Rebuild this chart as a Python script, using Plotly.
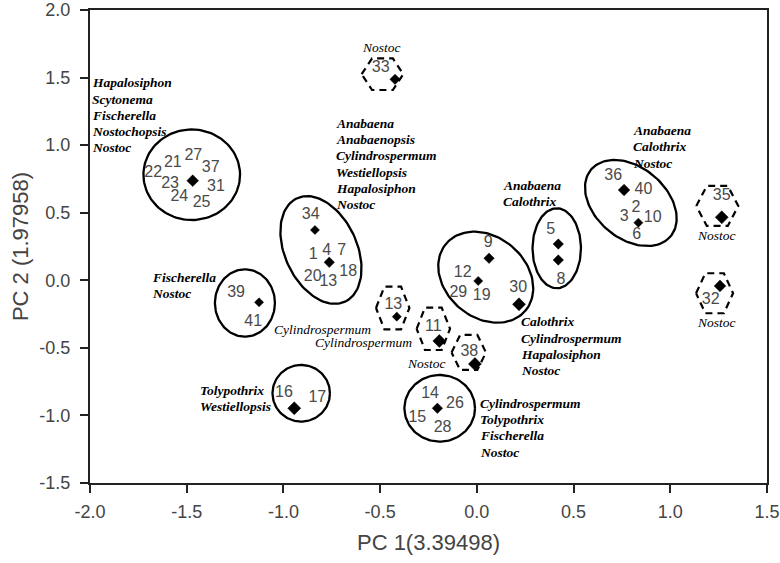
import numpy as np
import plotly.graph_objects as go

# ---------------- data ----------------
pc1 = [-1.469, -0.423, -0.837, -0.763, -1.126, -0.944, -0.414, -0.194, -0.010,
       -0.204, 0.063, 0.007, 0.218, 0.421, 0.421, 0.761, 0.835, 1.266, 1.257]
pc2 = [0.737, 1.487, 0.372, 0.133, -0.163, -0.947, -0.269, -0.449, -0.619,
       -0.947, 0.163, -0.005, -0.178, 0.268, 0.150, 0.668, 0.426, 0.466, -0.042]
marker_sizes = [9, 8, 7, 8, 7, 10, 7, 10, 10, 8, 8, 7, 10, 8, 8, 9, 7, 10, 9]

num_text = ["22", "21", "27", "37", "23", "31", "24", "25",
            "33", "34", "1", "4", "7", "20", "13", "18",
            "39", "41", "16", "17", "13", "11", "38",
            "14", "26", "15", "28", "9", "12", "29", "19", "30",
            "5", "8", "36", "40", "2", "3", "10", "6", "35", "32"]
num_x = [-1.673, -1.572, -1.466, -1.376, -1.586, -1.349, -1.538, -1.423,
         -0.497, -0.859, -0.846, -0.776, -0.699, -0.849, -0.768, -0.665,
         -1.245, -1.156, -0.997, -0.825, -0.432, -0.225, -0.039,
         -0.242, -0.113, -0.308, -0.177, 0.059, -0.073, -0.096, 0.025, 0.214,
         0.382, 0.435, 0.705, 0.861, 0.823, 0.762, 0.909, 0.826, 1.266, 1.209]
num_y = [0.792, 0.866, 0.920, 0.829, 0.712, 0.692, 0.618, 0.569,
         1.569, 0.483, 0.187, 0.219, 0.219, 0.026, -0.011, 0.064,
         -0.092, -0.306, -0.836, -0.873, -0.183, -0.343, -0.528,
         -0.844, -0.916, -1.021, -1.095, 0.278, 0.056, -0.092, -0.116, -0.059,
         0.372, 0.002, 0.772, 0.668, 0.533, 0.466, 0.459, 0.335, 0.624, -0.146]

genus_blocks = [
    (["Hapalosiphon", "Scytonema", "Fischerella", "Nostochopsis", "Nostoc"], -1.991, 1.462),
    (["Anabaena", "Anabaenopsis", "Cylindrospermum", "Westiellopsis", "Hapalosiphon", "Nostoc"], -0.728, 1.162),
    (["Anabaena", "Calothrix", "Nostoc"], 0.806, 1.107),
    (["Anabaena", "Calothrix"], 0.137, 0.705),
    (["Fischerella", "Nostoc"], -1.681, 0.022),
    (["Tolypothrix", "Westiellopsis"], -1.431, -0.812),
    (["Calothrix", "Cylindrospermum", "Hapalosiphon", "Nostoc"], 0.228, -0.307),
    (["Cylindrospermum", "Tolypothrix", "Fischerella", "Nostoc"], 0.016, -0.910),
]
single_text = ["Nostoc", "Nostoc", "Nostoc", "Cylindrospermum", "Cylindrospermum", "Nostoc"]
single_x = [-0.492, 1.240, 1.240, -0.538, -0.325, -0.148]
single_y = [1.724, 0.335, -0.316, -0.361, -0.457, -0.614]
single_anchor = ["center", "center", "center", "right", "right", "right"]

tick_x_vals = [-2.0, -1.5, -1.0, -0.5, 0.0, 0.5, 1.0, 1.5]
tick_x_text = ["-2.0", "-1.5", "-1.0", "-0.5", "0.0", "0.5", "1.0", "1.5"]
tick_y_vals = [-1.5, -1.0, -0.5, 0.0, 0.5, 1.0, 1.5, 2.0]
tick_y_text = ["-1.5", "-1.0", "-0.5", "0.0", "0.5", "1.0", "1.5", "2.0"]

# ellipses: centre (data), semi-axes (px), rotation (deg, clockwise on screen)
ellipses = [(-1.474, 0.781, 48.3, 45.3, 0), (-0.806, 0.224, 57, 36, 65),
            (-1.199, -0.168, 30, 33.7, 0), (-0.908, -0.836, 28.7, 28.3, 0),
            (-0.192, -0.947, 35.3, 33.3, 0), (0.046, 0.023, 51.9, 40.4, 40),
            (0.413, 0.237, 24.2, 40, 0), (0.796, 0.572, 51.9, 35.5, 40)]
hexagons = [(-0.488, 1.525, 20.8, 15.8), (-0.435, -0.205, 16.7, 21.3),
            (-0.225, -0.359, 16.7, 21.2), (-0.042, -0.534, 17.2, 17.5),
            (1.243, 0.550, 21, 20), (1.229, -0.096, 18.5, 20)]

X_RANGE = [-2.0, 1.5]
Y_RANGE = [-1.5, 2.0]
W, H = 780, 563
ML, MR, MT, MB = 90, 13, 10, 80
PXX = (W - ML - MR) / (X_RANGE[1] - X_RANGE[0])
PXY = (H - MT - MB) / (Y_RANGE[1] - Y_RANGE[0])

fig = go.Figure()

t = np.linspace(0, 2 * np.pi, 120)
for cx, cy, a, b, ang in ellipses:
    p = np.deg2rad(ang)
    dx = a * np.cos(t) * np.cos(p) - b * np.sin(t) * np.sin(p)
    dy = a * np.cos(t) * np.sin(p) + b * np.sin(t) * np.cos(p)
    fig.add_trace(go.Scatter(x=cx + dx / PXX, y=cy - dy / PXY, mode="lines",
                             line=dict(color="black", width=2.3),
                             hoverinfo="skip", showlegend=False))

for cx, cy, hw, hh in hexagons:
    vx = [-hw, -hw / 2, hw / 2, hw, hw / 2, -hw / 2, -hw]
    vy = [0, -hh, -hh, 0, hh, hh, 0]
    fig.add_trace(go.Scatter(x=[cx + v / PXX for v in vx], y=[cy - v / PXY for v in vy],
                             mode="lines",
                             line=dict(color="black", width=2.2, dash="7px,5px"),
                             hoverinfo="skip", showlegend=False))

fig.add_trace(go.Scatter(x=pc1, y=pc2, mode="markers",
                         marker=dict(symbol="diamond", size=marker_sizes, color="#000000",
                                     opacity=1, line=dict(color="#000000", width=0.5)),
                         showlegend=False))

fig.add_trace(go.Scatter(x=num_x, y=num_y, mode="text", text=num_text,
                         textfont=dict(family="Liberation Sans, Arial", size=16, color="#4a4a4a"),
                         hoverinfo="skip", showlegend=False))

LINE = 16.3 / PXY
for lines, x0, y0 in genus_blocks:
    for i, ln in enumerate(lines):
        fig.add_annotation(x=x0, y=y0 - i * LINE, text="<b><i>%s</i></b>" % ln,
                           showarrow=False, xanchor="left", yanchor="middle", xshift=-2,
                           font=dict(family="Liberation Serif, Times New Roman", size=13.5, color="black"))

for txt, x0, y0, anc in zip(single_text, single_x, single_y, single_anchor):
    fig.add_annotation(x=x0, y=y0, text="<i>%s</i>" % txt, showarrow=False,
                       xanchor=anc, yanchor="middle",
                       font=dict(family="Liberation Serif, Times New Roman", size=13.5, color="black"))

axis_common = dict(showgrid=False, zeroline=False, showline=True, linecolor="#222",
                   linewidth=2, mirror=True, ticks="outside", ticklen=8, tickwidth=1.5,
                   tickcolor="#222", tickmode="array", ticklabeloverflow="allow",
                   tickfont=dict(family="Liberation Sans, Arial", size=18, color="#444"))

fig.update_xaxes(range=X_RANGE, tickvals=tick_x_vals, ticktext=tick_x_text,
                 ticklabelstandoff=3,
                 title=dict(text="PC 1(3.39498)", standoff=14,
                            font=dict(family="Liberation Sans, Arial", size=22, color="#444")),
                 **axis_common)
fig.update_yaxes(range=Y_RANGE, tickvals=tick_y_vals, ticktext=tick_y_text,
                 ticklabelstandoff=6,
                 title=dict(text="PC 2 (1.97958)", standoff=5,
                            font=dict(family="Liberation Sans, Arial", size=22, color="#444")),
                 **axis_common)

fig.update_layout(width=W, height=H, margin=dict(l=ML, r=MR, t=MT, b=MB, autoexpand=False),
                  plot_bgcolor="white", paper_bgcolor="white", hovermode=False)

fig.write_html("out.html", config={"displayModeBar": False},
               post_script="document.body.style.margin='0';document.body.style.padding='0';")
